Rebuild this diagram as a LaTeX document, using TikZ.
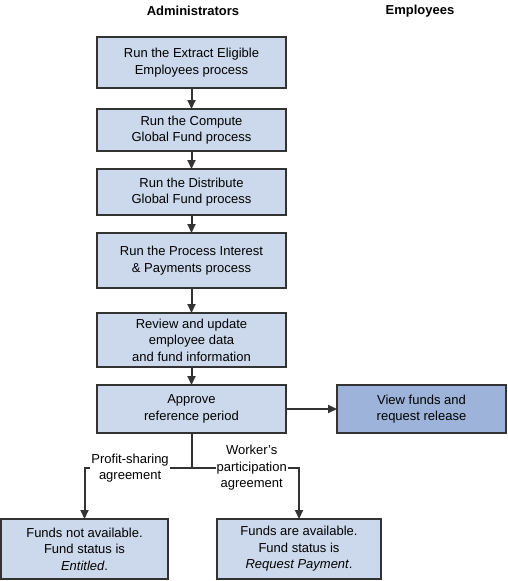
\documentclass[tikz,border=0pt]{standalone}
\usepackage{fontspec}
\setmainfont{Liberation Sans}
\usepackage{xcolor}
\usetikzlibrary{positioning,arrows.meta}
\definecolor{boxfill}{HTML}{CCD9EC}
\definecolor{empfill}{HTML}{9DB3D9}
\definecolor{edge}{HTML}{333333}
\begin{document}
\begin{tikzpicture}[x=1pt, y=1pt, >={Triangle[length=9pt,width=8pt]},
        font=\fontsize{13}{16.5}\selectfont,
        link/.style = {draw=edge, line width=2pt},
        main/.style = {draw=edge, line width=2pt, fill=boxfill, align=center, minimum width=189pt, inner sep=2pt, outer sep=0pt},
        emp/.style = {main, fill=empfill, minimum width=169pt},
        lbl/.style = {fill=white, align=center, inner sep=1pt},
        head/.style = {font=\fontsize{13}{16.5}\selectfont\bfseries}]
        \useasboundingbox (0,0) rectangle (507,-581);
        \node[head] (a) at (193,-11) {Administrators};
        \node[head] (e) at (420,-11) {Employees};
        \node[main, minimum height=51pt] (1) at (191.5,-62.5) {Run the Extract Eligible\\Employees process};
        \node[main, minimum height=42pt] (2) [below=21pt of 1] {Run the Compute\\Global Fund process};
        \node[main, minimum height=46pt] (3) [below=18pt of 2] {Run the Distribute\\Global Fund process};
        \node[main, minimum height=55pt] (4) [below=18pt of 3] {Run the Process Interest\\\& Payments process};
        \node[main, minimum height=54pt] (5) [below=25pt of 4] {Review and update\\employee data\\and fund information};
        \node[main, minimum height=48pt] (6) [below=18pt of 5] {Approve\\reference period};
        \node[emp, minimum height=48pt] (7) [right=51pt of 6] {View funds and\\request release};
        \node[main, minimum width=167pt, minimum height=60pt] (8) at (84.5,-549) {Funds not available.\\Fund status is\\\textit{Entitled}.};
        \node[main, minimum width=164pt, minimum height=60pt] (9) at (299,-549) {Funds are available.\\Fund status is\\\textit{Request Payment}.};
        \coordinate (s) at ([yshift=-35pt]6.south);
        \draw[link, ->] (1) -- (2);
        \draw[link, ->] (2) -- (3);
        \draw[link, ->] (3) -- (4);
        \draw[link, ->] (4) -- (5);
        \draw[link, ->] (5) -- (6);
        \draw[link, ->] (6) -- (7);
        \draw[link] (6) -- (s);
        \draw[link, ->] (s) -| node[lbl, pos=0.287] (10) {Profit-sharing\\agreement} (8);
        \draw[link, ->] (s) -| node[lbl, pos=0.28] (11) {Worker's\\participation\\agreement} (9);
    \end{tikzpicture}
\end{document}
